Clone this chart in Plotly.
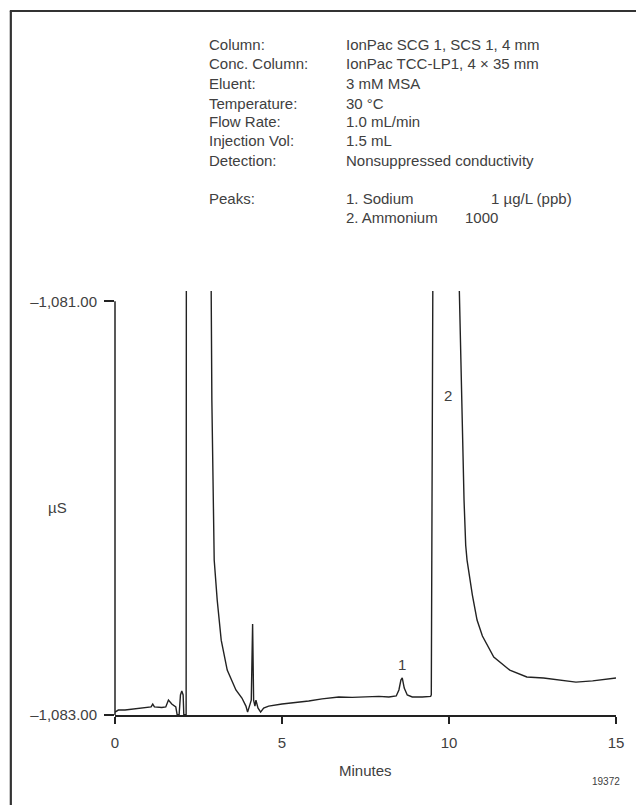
import plotly.graph_objects as go

# ---- data ----
time_min = [0.00, 0.10, 0.30, 0.60, 0.90, 1.08, 1.13, 1.18, 1.40, 1.52, 1.60, 1.70, 1.82, 1.86, 1.92,
            1.96, 2.00, 2.04, 2.06, 2.13, 2.14, 2.50, 2.84, 2.88, 2.90, 2.95, 2.97, 3.06, 3.18, 3.36,
            3.62, 3.80, 3.92, 3.97, 4.03, 4.08, 4.12, 4.15, 4.19, 4.22, 4.28, 4.36, 4.45, 4.60, 5.00,
            5.40, 5.80, 6.20, 6.70, 7.10, 7.50, 7.90, 8.20, 8.42, 8.50, 8.56, 8.60, 8.66, 8.75, 8.90,
            9.20, 9.45, 9.47, 9.50, 9.53, 9.90, 10.25, 10.31, 10.39, 10.45, 10.50, 10.54, 10.70, 10.84,
            11.00, 11.34, 11.82, 12.33, 12.83, 13.30, 13.80, 14.30, 14.70, 15.00]
signal_uS = [-1082.986, -1082.976, -1082.976, -1082.971, -1082.966, -1082.961, -1082.947, -1082.961,
             -1082.964, -1082.961, -1082.928, -1082.947, -1082.961, -1082.998, -1082.998, -1082.903,
             -1082.884, -1082.903, -1082.998, -1082.998, -1079.500, -1079.000, -1080.600, -1080.950,
             -1081.478, -1082.058, -1082.251, -1082.444, -1082.638, -1082.783, -1082.879, -1082.918,
             -1082.957, -1082.986, -1082.957, -1082.928, -1082.560, -1082.928, -1082.957, -1082.928,
             -1082.966, -1082.986, -1082.966, -1082.957, -1082.947, -1082.940, -1082.932, -1082.922,
             -1082.913, -1082.915, -1082.913, -1082.910, -1082.913, -1082.908, -1082.879, -1082.831,
             -1082.821, -1082.870, -1082.903, -1082.913, -1082.913, -1082.910, -1082.903, -1081.478,
             -1080.300, -1078.000, -1080.500, -1080.950, -1081.575, -1081.961, -1082.179, -1082.251,
             -1082.420, -1082.541, -1082.618, -1082.720, -1082.783, -1082.816, -1082.821, -1082.830,
             -1082.841, -1082.835, -1082.826, -1082.821]

x_tickvals = [0, 5, 10, 15]
x_ticktext = ["0", "5", "10", "15"]
y_tickvals = [-1083.0, -1081.0]
y_ticktext = ["\u20131,083.00", "\u20131,081.00"]

info_labels = ["Column:", "Conc. Column:", "Eluent:", "Temperature:", "Flow Rate:",
               "Injection Vol:", "Detection:", "Peaks:"]
info_values = ["IonPac SCG 1, SCS 1, 4 mm", "IonPac TCC-LP1, 4 \u00d7 35 mm", "3 mM MSA", "30 \u00b0C",
               "1.0 mL/min", "1.5 mL", "Nonsuppressed conductivity", "1. Sodium"]
peak_names = ["1. Sodium", "2. Ammonium"]
peak_conc = ["1 \u00b5g/L (ppb)", "1000"]
peak_labels = ["1", "2"]
peak_label_x = [8.58, 9.98]
peak_label_y = [-1082.758, -1081.454]

# ---- layout geometry (pixels) ----
W, H = 636, 805
L, R, T, B = 115, 620, 291, 715
FONT = "Liberation Sans, Arial, sans-serif"
TXT = "#404040"
LINE = "#222222"


def px(x):
    return (x - L) / (R - L)


def py(y):
    return (B - y) / (B - T)


fig = go.Figure()
fig.add_trace(go.Scatter(x=time_min, y=signal_uS, mode="lines",
                         line=dict(color=LINE, width=1.4), hoverinfo="skip", showlegend=False))

ann = []
rows_y = [45, 64, 83, 103, 122, 141, 160, 198]
for lab, val, yy in zip(info_labels, info_values, rows_y):
    ann.append(dict(x=px(208), y=py(yy), text=lab, xanchor="left", yanchor="middle"))
    if lab != "Peaks:":
        ann.append(dict(x=px(346), y=py(yy), text=val, xanchor="left", yanchor="middle"))
ann.append(dict(x=px(346), y=py(198), text=peak_names[0], xanchor="left", yanchor="middle"))
ann.append(dict(x=px(492), y=py(198), text=peak_conc[0], xanchor="left", yanchor="middle"))
ann.append(dict(x=px(346), y=py(217), text=peak_names[1], xanchor="left", yanchor="middle"))
ann.append(dict(x=px(466), y=py(217), text=peak_conc[1], xanchor="left", yanchor="middle"))
ann.append(dict(x=px(57), y=py(507), text="\u00b5S", xanchor="center", yanchor="middle"))
ann.append(dict(x=px(367), y=py(770), text="Minutes", xanchor="center", yanchor="middle"))
for a in ann:
    a.update(xref="paper", yref="paper", showarrow=False, font=dict(family=FONT, size=15, color=TXT))
ann.append(dict(x=px(610), y=py(781), xref="paper", yref="paper", text="19372", showarrow=False,
                xanchor="center", yanchor="middle", font=dict(family=FONT, size=10, color=TXT)))
for lab, xx, yy in zip(peak_labels, peak_label_x, peak_label_y):
    ann.append(dict(x=xx, y=yy, xref="x", yref="y", text=lab, showarrow=False,
                    xanchor="center", yanchor="middle", font=dict(family=FONT, size=15, color=TXT)))

shapes = [
    # y axis line from the bottom tick to the top tick
    dict(type="line", xref="paper", yref="y", x0=0, x1=0, y0=y_tickvals[0], y1=y_tickvals[1],
         line=dict(color=LINE, width=1.5)),
    # frame (left and top edges)
    dict(type="line", xref="paper", yref="paper", x0=px(10), x1=px(10), y0=py(11), y1=py(820),
         line=dict(color="#333333", width=2.2)),
    dict(type="line", xref="paper", yref="paper", x0=px(9), x1=px(650), y0=py(11), y1=py(11),
         line=dict(color="#333333", width=2.2)),
]

fig.update_layout(
    width=W, height=H,
    margin=dict(l=L, r=W - R, t=T, b=H - B),
    paper_bgcolor="white", plot_bgcolor="white",
    showlegend=False,
    annotations=ann, shapes=shapes,
    xaxis=dict(range=[0, 15], tickvals=x_tickvals, ticktext=x_ticktext, ticks="outside", ticklen=7,
               tickwidth=1.5, tickcolor=LINE, showline=True, linecolor=LINE, linewidth=1.5,
               showgrid=False, zeroline=False, ticklabelstandoff=6,
               tickfont=dict(family=FONT, size=15, color=TXT)),
    yaxis=dict(range=[-1083.0, -1080.95], tickvals=y_tickvals, ticktext=y_ticktext, ticks="outside",
               ticklen=10, tickwidth=1.5, tickcolor=LINE, showline=False, showgrid=False,
               zeroline=False, ticklabelstandoff=4,
               tickfont=dict(family=FONT, size=15, color=TXT)),
)

fig.write_html("out.html")
